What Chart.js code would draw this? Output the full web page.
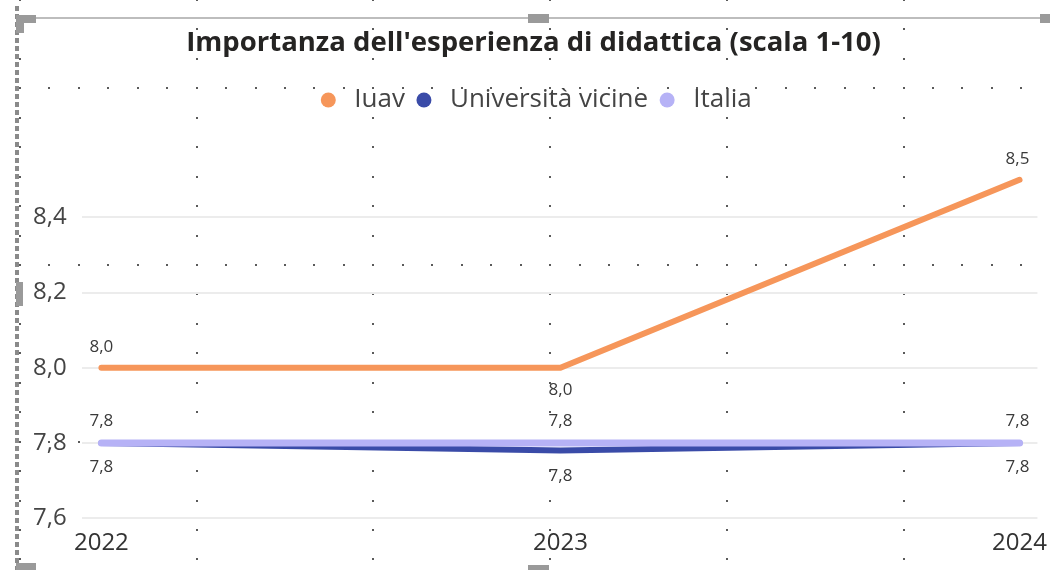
<!DOCTYPE html>
<html>
<head>
<meta charset="utf-8">
<script src="https://cdn.jsdelivr.net/npm/chart.js@4.4.1/dist/chart.umd.min.js"></script>
<style>
  html, body { margin: 0; padding: 0; background: #fff; }
  #wrap { width: 1050px; height: 570px; position: relative; }
</style>
</head>
<body>
<div id="wrap"><canvas id="chart" width="1050" height="570"></canvas></div>
<script>
// dati
const anni = [2022, 2023, 2024];
const iuav = [8.0, 8.0, 8.5];
const univVicine = [7.8, 7.78, 7.8];
const italia = [7.8, 7.8, 7.8];
const yTicks = [7.6, 7.8, 8.0, 8.2, 8.4];

const fmt = v => v.toFixed(1).replace('.', ',');

// sfondo a puntini e cornice (canvas dell'editor)
const sfondo = {
  id: 'sfondo',
  beforeDraw(chart) {
    const c = chart.ctx;
    c.save();
    c.fillStyle = '#fff';
    c.fillRect(0, 0, chart.width, chart.height);
    c.fillStyle = '#5a5a5a';
    const step = 29.45;
    for (let x = 20; x < chart.width; x += step * 6) {
      for (let y = 88.3 - step * 3; y < chart.height; y += step) {
        c.fillRect(Math.round(x) - 1, Math.round(y) - 1, 2, 2);
      }
    }
    for (let y = 88.3; y < chart.height; y += step * 6) {
      for (let x = 20; x < chart.width; x += step) {
        c.fillRect(Math.round(x) - 1, Math.round(y) - 1, 2, 2);
      }
    }
    // cornice
    c.fillStyle = '#bdbdbd';
    c.fillRect(20, 17, chart.width - 20, 2);
    c.fillStyle = '#8a8a8a';
    for (let y = 6; y < chart.height; y += 8) c.fillRect(15, y, 4, 5);
    c.fillStyle = '#9a9a9a';
    c.fillRect(16, 15, 20, 8);
    c.fillRect(16, 15, 8, 18);
    c.fillRect(528, 14, 21, 9);
    c.fillRect(1040, 14, 10, 9);
    c.fillRect(16, 282, 7, 24);
    c.fillRect(16, 563, 20, 7);
    c.fillRect(528, 565, 21, 5);
    c.restore();
  }
};

// etichette dei valori
const etichette = {
  id: 'etichette',
  afterDatasetsDraw(chart) {
    const c = chart.ctx;
    c.save();
    c.font = '17px "Open Sans"';
    c.fillStyle = '#3a3a3a';
    c.textAlign = 'center';
    c.textBaseline = 'middle';
    const pos = [
      [-21, 22, -21],  // Iuav
      [24, 26, 24],    // Università vicine
      [-22, -22, -22]  // Italia
    ];
    chart.data.datasets.forEach((ds, i) => {
      const meta = chart.getDatasetMeta(i);
      meta.data.forEach((pt, j) => {
        const dx = j === 2 ? -2 : 0;
        c.fillText(fmt(ds.data[j].y), pt.x + dx, pt.y + pos[i][j]);
      });
    });
    c.restore();
  }
};

const punti = arr => arr.map((v, i) => ({ x: anni[i], y: v }));

new Chart(document.getElementById('chart'), {
  type: 'line',
  data: {
    datasets: [
      { label: 'Iuav', data: punti(iuav), borderColor: '#F6965A', backgroundColor: '#F6965A', borderWidth: 6, order: 0 },
      { label: 'Università vicine', data: punti(univVicine), borderColor: '#3A4BA8', backgroundColor: '#3A4BA8', borderWidth: 6, order: 2 },
      { label: 'Italia', data: punti(italia), borderColor: '#B6B2F6', backgroundColor: '#B6B2F6', borderWidth: 7, order: 1 }
    ]
  },
  options: {
    responsive: false,
    animation: false,
    events: [],
    layout: { padding: { left: 18, right: 1, top: 27, bottom: 9 } },
    elements: {
      point: { radius: 0 },
      line: { tension: 0, borderCapStyle: 'round', borderJoinStyle: 'round' }
    },
    plugins: {
      title: {
        display: true,
        text: "Importanza dell'esperienza di didattica (scala 1-10)",
        color: '#252423',
        font: { family: 'Open Sans', size: 27.5, weight: 'bold' },
        padding: { top: 0, bottom: 21 }
      },
      legend: {
        display: true,
        position: 'top',
        labels: {
          usePointStyle: true,
          pointStyle: 'circle',
          boxHeight: 10.6,
          padding: 6,
          color: '#444',
          font: { family: 'Open Sans', size: 26 },
          sort: (a, b) => a.datasetIndex - b.datasetIndex,
          generateLabels: chart => Chart.defaults.plugins.legend.labels.generateLabels(chart)
            .map(it => Object.assign(it, { lineWidth: 0 }))
        }
      },
      tooltip: { enabled: false }
    },
    scales: {
      x: {
        type: 'linear',
        min: 2021.957,
        max: 2024.039,
        afterBuildTicks: s => { s.ticks = anni.map(v => ({ value: v })); },
        grid: { display: false },
        border: { display: false },
        ticks: {
          color: '#333',
          font: { family: 'Open Sans', size: 24 },
          maxRotation: 0,
          padding: 3,
          callback: v => String(v)
        }
      },
      y: {
        min: 7.6,
        max: 8.651,
        afterBuildTicks: s => { s.ticks = yTicks.map(v => ({ value: v })); },
        grid: { color: '#ececec', lineWidth: 2, drawTicks: false },
        border: { display: false },
        ticks: {
          color: '#444',
          font: { family: 'Open Sans', size: 24 },
          padding: 15,
          callback: v => fmt(v)
        }
      }
    }
  },
  plugins: [sfondo, etichette]
});
</script>
</body>
</html>
